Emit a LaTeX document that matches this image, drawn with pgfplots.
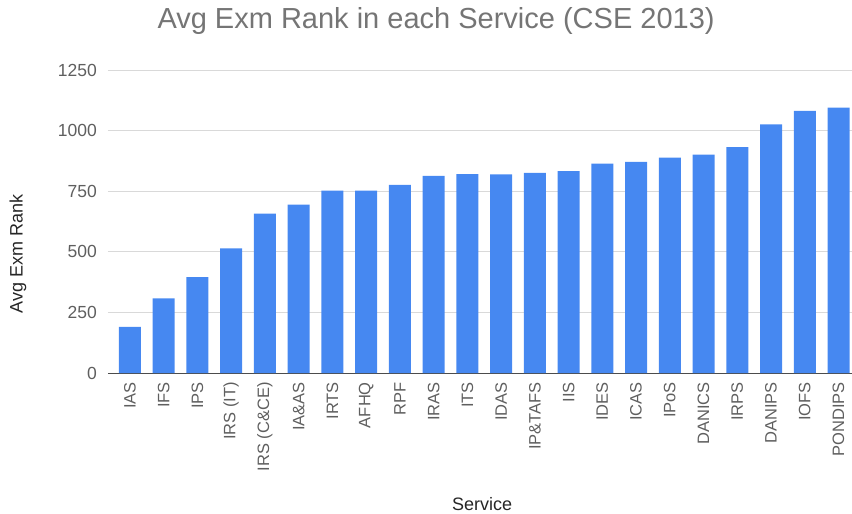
\documentclass[border=0pt]{standalone}
\usepackage{fontspec}
\setmainfont{Liberation Sans}
\usepackage{pgfplots}
\pgfplotsset{compat=1.18}
\definecolor{barblue}{HTML}{4688F1}
\definecolor{txtgray}{HTML}{757575}
\definecolor{tickgray}{HTML}{5F5F5F}
\definecolor{gridgray}{HTML}{D9D9D9}
\begin{document}
\begin{tikzpicture}
\path[use as bounding box] (-108pt,-141pt) rectangle (744pt,373pt);
\begin{axis}[
    at={(0pt,0pt)}, anchor=south west,
    scale only axis,
    width=744pt, height=303pt,
    xmin=-0.65, xmax=21.4,
    ymin=0, ymax=1250,
    ytick={0,250,500,750,1000,1250},
    xtick=data,
    xticklabels={IAS,IFS,IPS,IRS (IT),IRS (C\&CE),IA\&AS,IRTS,AFHQ,RPF,IRAS,ITS,IDAS,IP\&TAFS,IIS,IDES,ICAS,IPoS,DANICS,IRPS,DANIPS,IOFS,PONDIPS},
    axis x line=bottom, axis y line=left,
    x axis line style={-, draw=black!70, line width=1pt},
    y axis line style={draw=none},
    major tick length=0pt,
    ymajorgrids, grid style={gridgray, line width=0.9pt},
    /pgf/number format/assume math mode=true,
    /pgf/number format/1000 sep={},
    tick label style={text=tickgray, inner sep=0pt},
    xticklabel style={font=\fontsize{16.5}{19}\selectfont, rotate=90, anchor=east},
    yticklabel style={font=\fontsize{17.5}{20}\selectfont},
    xticklabel shift=9pt,
    yticklabel shift=11pt,
    title={Avg Exm Rank in each Service (CSE 2013)},
    title style={font=\fontsize{29}{33}\selectfont, text=txtgray, at={(axis description cs:0.441,1)}, anchor=center, yshift=43pt},
    xlabel={Service},
    xlabel style={font=\fontsize{18}{21}\selectfont, text=black!85, at={(axis description cs:0.503,0)}, anchor=base, yshift=-137pt},
    ylabel={Avg Exm Rank},
    ylabel style={font=\fontsize{18}{21}\selectfont, text=black!85, at={(axis description cs:-0.121,0.393)}, anchor=center},
    ybar, bar width=22pt,
    clip=false,
]
\addplot[fill=barblue, draw=none] coordinates {
    (0,190) (1,308) (2,396) (3,514) (4,658) (5,695) (6,752) (7,752)
    (8,776) (9,813) (10,820) (11,819) (12,826) (13,833) (14,864) (15,871)
    (16,889) (17,901) (18,932) (19,1026) (20,1081) (21,1095)
};
\end{axis}
\end{tikzpicture}
\end{document}
